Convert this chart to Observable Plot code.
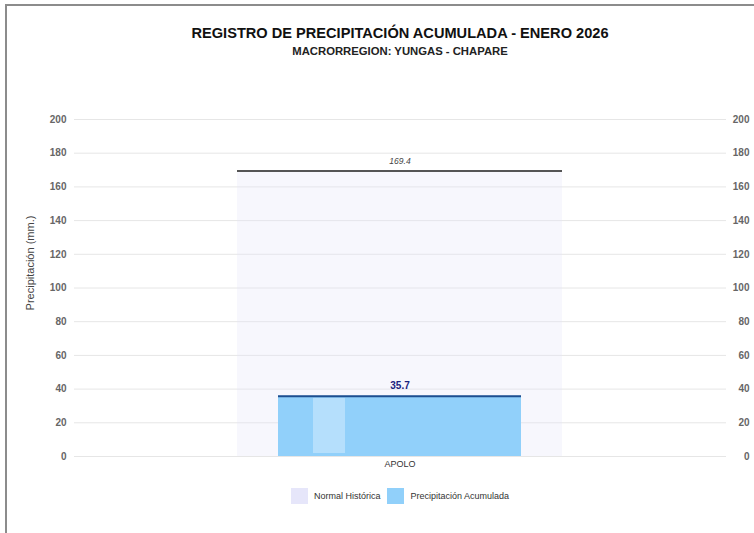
<!DOCTYPE html>
<html><head><meta charset="utf-8">
<script src="https://cdn.jsdelivr.net/npm/d3@7"></script>
<script src="https://cdn.jsdelivr.net/npm/@observablehq/plot@0.6"></script>
<style>
html,body{margin:0;padding:0;background:#fff;overflow:hidden;width:754px;height:533px;font-family:"Liberation Sans",Arial,sans-serif;}
#frame{position:absolute;left:5px;top:4px;width:900px;height:700px;border-top:2px solid #8c8c8c;border-left:2px solid #8c8c8c;}
#title{position:absolute;left:0;top:25px;width:800px;text-align:center;font-weight:bold;font-size:14.6px;line-height:16px;color:#111;}
#subtitle{position:absolute;left:0;top:45px;width:800px;text-align:center;font-weight:bold;font-size:11.3px;line-height:12px;color:#222;}
#chart{position:absolute;left:0;top:58px;}
#legend{position:absolute;left:0;top:488px;width:800px;display:flex;justify-content:center;align-items:center;font-size:9px;color:#333;}
.sw{width:17px;height:16px;display:inline-block;margin-right:6px;}
.item{display:flex;align-items:center;margin:0 3.5px;}
</style>
</head>
<body>
<div id="frame"></div>
<div id="title">REGISTRO DE PRECIPITACIÓN ACUMULADA - ENERO 2026</div>
<div id="subtitle">MACRORREGION: YUNGAS - CHAPARE</div>
<div id="chart"></div>
<div id="legend"></div>
<script>
const estaciones = ["APOLO"];
const normalHistorica = [169.4];
const precipAcumulada = [35.7];
const yTicks = [0, 20, 40, 60, 80, 100, 120, 140, 160, 180, 200];
const seriesNames = ["Normal Histórica", "Precipitación Acumulada"];
const seriesColors = ["#e6e6fa", "#91d0fa"];

const data = estaciones.map((e, i) => ({estacion: e, normal: normalHistorica[i], precip: precipAcumulada[i]}));
const font = "Liberation Sans, Arial, sans-serif";

const chart = Plot.plot({
  width: 754, height: 420,
  marginTop: 61, marginBottom: 22, marginLeft: 74, marginRight: 28,
  style: {fontFamily: font, background: "transparent"},
  x: {type: "band", domain: estaciones, padding: 1/3, label: null},
  y: {domain: [0, 200], label: null},
  marks: [
    Plot.gridY(yTicks, {stroke: "#e6e6e6", strokeOpacity: 1, strokeWidth: 1}),
    Plot.barY(data, {x: "estacion", y: "normal", fill: seriesColors[0], fillOpacity: 0.3}),
    Plot.tickY(data, {x: "estacion", y: "normal", stroke: "#555", strokeWidth: 2}),
    Plot.text(data, {x: "estacion", y: "normal", text: d => d.normal.toFixed(1), dy: -10, fontSize: 8.5, fontStyle: "italic", fill: "#444"}),
    Plot.barY(data, {x: "estacion", y: "precip", fill: seriesColors[1], insetLeft: 41, insetRight: 41}),
    Plot.barY(data, {x: "estacion", y: "precip", fill: "#b5dffc", insetLeft: 76, insetRight: 217, insetTop: 2, insetBottom: 3}),
    Plot.tickY(data, {x: "estacion", y: "precip", stroke: "#1d4e8f", strokeWidth: 2, insetLeft: 41, insetRight: 41}),
    Plot.text(data, {x: "estacion", y: "precip", text: d => d.precip.toFixed(1), dy: -11, fontSize: 10, fontWeight: "bold", fill: "#1a237e"}),
    Plot.axisY(yTicks, {anchor: "left", tickSize: 0, tickPadding: 8, fontSize: 10, fontWeight: "bold", fill: "#666", label: null}),
    Plot.axisY(yTicks, {anchor: "right", tickSize: 0, tickPadding: 23, textAnchor: "end", fontSize: 10, fontWeight: "bold", fill: "#666", label: null}),
    Plot.axisX({tickSize: 0, tickPadding: 4, fontSize: 9, fill: "#333", label: null}),
    Plot.text(["Precipitación (mm.)"], {frameAnchor: "left", textAnchor: "middle", rotate: -90, dx: -44, dy: -25, fontSize: 11, fill: "#444", fontFamily: font})
  ]
});
document.getElementById("chart").appendChild(chart);

const legend = document.getElementById("legend");
seriesNames.forEach((name, i) => {
  const item = document.createElement("div");
  item.className = "item";
  const sw = document.createElement("span");
  sw.className = "sw";
  sw.style.background = seriesColors[i];
  const t = document.createElement("span");
  t.textContent = name;
  item.appendChild(sw); item.appendChild(t);
  legend.appendChild(item);
});
</script>
</body></html>
